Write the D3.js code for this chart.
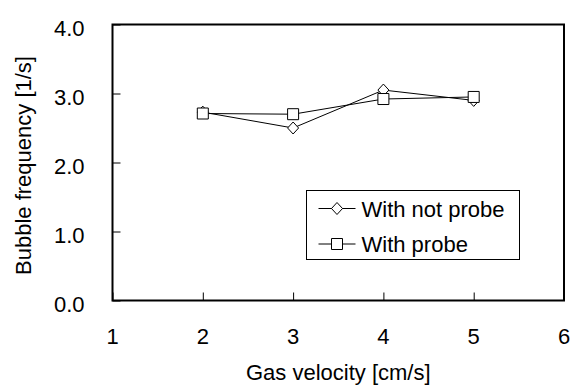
<!DOCTYPE html>
<html lang="en">
<head>
  <meta charset="utf-8" />
  <title>Bubble frequency vs gas velocity</title>
  <script src="https://cdnjs.cloudflare.com/ajax/libs/d3/7.8.5/d3.min.js"></script>
  <style>
    html, body { margin: 0; padding: 0; background: #fff; }
    svg text { font-family: "Liberation Sans", Arial, sans-serif; fill: #000; }
  </style>
</head>
<body>
<svg id="chart" width="570" height="385"></svg>
<script>
  const velocity = [2, 3, 4, 5];
  const withNotProbe = [2.73, 2.50, 3.05, 2.90];
  const withProbe = [2.71, 2.70, 2.92, 2.95];
  const xTicks = [1, 2, 3, 4, 5, 6];
  const yTicks = [0, 1, 2, 3, 4];

  const svg = d3.select("#chart");
  const margin = { top: 24.5, right: 6, bottom: 84.5, left: 112.5 };
  const width = +svg.attr("width") - margin.left - margin.right;
  const height = +svg.attr("height") - margin.top - margin.bottom;

  const g = svg.append("g")
    .attr("transform", "translate(" + margin.left + "," + margin.top + ")");

  const x = d3.scaleLinear().domain([1, 6]).range([0, width]);
  const y = d3.scaleLinear().domain([0, 4]).range([height, 0]);

  // inward ticks, labels drawn separately
  const xAxis = g.append("g")
    .attr("transform", "translate(0," + height + ")")
    .call(d3.axisTop(x).tickValues(xTicks).tickSize(8).tickFormat(""));
  xAxis.select(".domain").remove();
  xAxis.selectAll("line").attr("stroke", "#000");

  const yAxis = g.append("g")
    .call(d3.axisRight(y).tickValues(yTicks).tickSize(8).tickFormat(""));
  yAxis.select(".domain").remove();
  yAxis.selectAll("line").attr("stroke", "#000");

  g.selectAll(".xlab")
    .data(xTicks)
    .enter().append("text")
    .attr("x", d => x(d))
    .attr("y", height + 43)
    .attr("text-anchor", "middle")
    .style("font-size", "22px")
    .text(d => d);

  g.selectAll(".ylab")
    .data(yTicks)
    .enter().append("text")
    .attr("x", -28)
    .attr("y", d => y(d) + 11.5)
    .attr("text-anchor", "end")
    .style("font-size", "22px")
    .text(d => d3.format(".1f")(d));

  // frame
  g.append("rect")
    .attr("width", width)
    .attr("height", height)
    .attr("fill", "none")
    .attr("stroke", "#000")
    .attr("stroke-width", 2);

  const diamond = "M0,-6L5.5,0L0,6L-5.5,0Z";
  const square = "M-5.5,-5.5H5.5V5.5H-5.5Z";

  const series = [
    { name: "With not probe", values: withNotProbe, shape: diamond },
    { name: "With probe", values: withProbe, shape: square }
  ];

  const line = d3.line()
    .x((d, i) => x(velocity[i]))
    .y(d => y(d));

  series.forEach(function(s) {
    g.append("path")
      .datum(s.values)
      .attr("d", line)
      .attr("fill", "none")
      .attr("stroke", "#000")
      .attr("stroke-width", 1);
  });

  series.forEach(function(s) {
    g.selectAll(null)
      .data(s.values)
      .enter().append("path")
      .attr("d", s.shape)
      .attr("transform", (d, i) => "translate(" + x(velocity[i]) + "," + y(d) + ")")
      .attr("fill", "#fff")
      .attr("stroke", "#000")
      .attr("stroke-width", 1);
  });

  // legend
  const legend = svg.append("g").attr("transform", "translate(306.5,190.5)");
  legend.append("rect")
    .attr("width", 213)
    .attr("height", 69)
    .attr("fill", "#fff")
    .attr("stroke", "#000")
    .attr("stroke-width", 1);

  series.forEach(function(s, i) {
    const row = legend.append("g").attr("transform", "translate(0," + (18 + i * 35.5) + ")");
    row.append("line")
      .attr("x1", 12).attr("x2", 49)
      .attr("stroke", "#000");
    row.append("path")
      .attr("d", s.shape)
      .attr("transform", "translate(30.5,0)")
      .attr("fill", "#fff")
      .attr("stroke", "#000");
    row.append("text")
      .attr("x", 55)
      .attr("y", 8)
      .style("font-size", "22px")
      .text(s.name);
  });

  svg.append("text")
    .attr("x", margin.left + width / 2)
    .attr("y", 380)
    .attr("text-anchor", "middle")
    .style("font-size", "22px")
    .text("Gas velocity [cm/s]");

  svg.append("text")
    .attr("transform", "translate(31," + (margin.top + height / 2 + 3) + ") rotate(-90)")
    .attr("text-anchor", "middle")
    .style("font-size", "22px")
    .text("Bubble frequency [1/s]");
</script>
</body>
</html>
